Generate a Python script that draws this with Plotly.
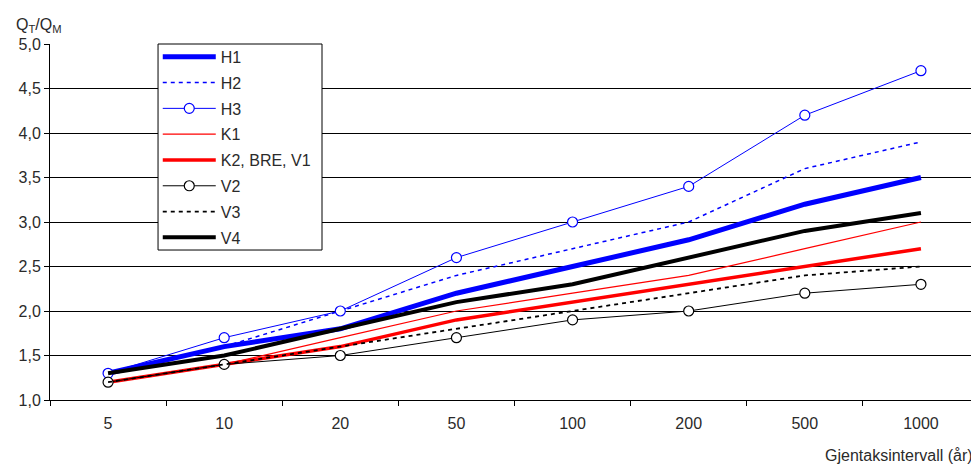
import plotly.graph_objects as go

categories = ["5", "10", "20", "50", "100", "200", "500", "1000"]
H1 = [1.3, 1.6, 1.8, 2.2, 2.5, 2.8, 3.2, 3.5]
H2 = [1.3, 1.6, 2.0, 2.4, 2.7, 3.0, 3.6, 3.9]
H3 = [1.3, 1.7, 2.0, 2.6, 3.0, 3.4, 4.2, 4.7]
K1 = [1.2, 1.4, 1.7, 2.0, 2.2, 2.4, 2.7, 3.0]
K2 = [1.2, 1.4, 1.6, 1.9, 2.1, 2.3, 2.5, 2.7]
V2 = [1.2, 1.4, 1.5, 1.7, 1.9, 2.0, 2.2, 2.3]
V3 = [1.2, 1.4, 1.6, 1.8, 2.0, 2.2, 2.4, 2.5]
V4 = [1.3, 1.5, 1.8, 2.1, 2.3, 2.6, 2.9, 3.1]

BLUE = "#0000ff"
RED = "#ff0000"
BLACK = "#000000"

series = [
    ("H1", H1, dict(color=BLUE, width=5), None),
    ("H2", H2, dict(color=BLUE, width=1.5, dash="4px,4px"), None),
    ("H3", H3, dict(color=BLUE, width=1), dict(symbol="circle", size=10, color="white", line=dict(color=BLUE, width=1.2))),
    ("K1", K1, dict(color=RED, width=1.2), None),
    ("K2, BRE, V1", K2, dict(color=RED, width=3.5), None),
    ("V2", V2, dict(color=BLACK, width=1), dict(symbol="circle", size=10, color="white", line=dict(color=BLACK, width=1.2))),
    ("V3", V3, dict(color=BLACK, width=1.8, dash="4px,4px"), None),
    ("V4", V4, dict(color=BLACK, width=4), None),
]

fig = go.Figure()
for i, (name, vals, line, marker) in enumerate(series):
    kw = dict(x=categories, y=vals, name=name, line=line, legendgroup=f"g{i}")
    if marker:
        kw["mode"] = "lines+markers"
        kw["marker"] = marker
    else:
        kw["mode"] = "lines"
    fig.add_trace(go.Scatter(**kw))

font = "Liberation Sans, Arial, sans-serif"
TXT = "#2a2a2a"
fig.update_layout(
    width=971, height=460,
    margin=dict(l=42, r=0, t=36, b=68),
    paper_bgcolor="white", plot_bgcolor="white",
    separators=", ",
    font=dict(family=font, size=16, color=TXT),
    showlegend=True,
    legend=dict(
        x=0.116, y=1.0116, xanchor="left", yanchor="top",
        bgcolor="rgba(0,0,0,0)", borderwidth=0,
        font=dict(size=16, color=TXT),
        itemwidth=53, tracegroupgap=2,
    ),
    shapes=[
        dict(type="rect", xref="paper", yref="paper",
             x0=0.1163, x1=0.2928, y0=0.4213, y1=1.0,
             fillcolor="white", line=dict(color="black", width=1), layer="above"),
    ],
    xaxis=dict(
        type="category", range=[-0.5, 7.5],
        showgrid=False, showline=True, linecolor="black", linewidth=1,
        ticks="outside", tickson="boundaries", ticklen=5, tickcolor="black",
        tickfont=dict(size=16, color=TXT), ticklabelstandoff=9,
    ),
    yaxis=dict(
        range=[1, 5], dtick=0.5, tickformat=".1f",
        showgrid=True, gridcolor="black", gridwidth=1,
        showline=True, linecolor="black", linewidth=1,
        ticks="outside", ticklen=5, tickcolor="black",
        tickfont=dict(size=16, color=TXT),
        zeroline=False,
    ),
    annotations=[
        dict(text="Q<sub>T</sub>/Q<sub>M</sub>", xref="paper", yref="paper",
             x=-0.039, y=1.084, xanchor="left", yanchor="top", showarrow=False,
             font=dict(size=16, color=TXT)),
        dict(text="Gjentaksintervall (år)", xref="paper", yref="paper",
             x=0.9957, y=-0.1545, xanchor="right", yanchor="middle", showarrow=False,
             font=dict(size=16, color=TXT)),
    ],
)

fig.write_html("out.html")
